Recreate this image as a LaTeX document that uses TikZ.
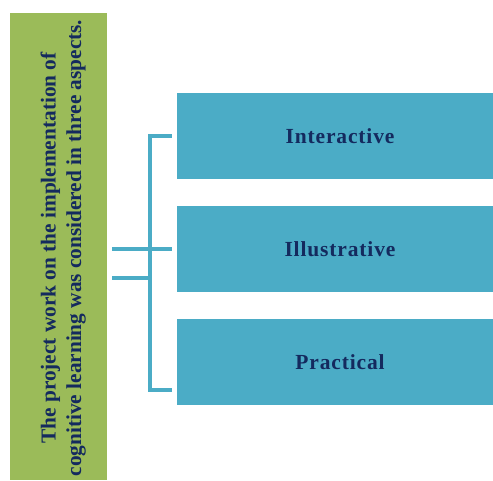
\documentclass[tikz,border=0pt]{standalone}
\usepackage{fontspec}
\setmainfont{Liberation Serif}
\definecolor{greenbox}{HTML}{9BBB59}
\definecolor{bluebox}{HTML}{4BACC6}
\definecolor{navytext}{HTML}{142A5E}
\tikzset{
  aspectbox/.style={rectangle, fill=bluebox, draw=none, inner sep=0pt,
    minimum width=316pt, minimum height=86pt,
    font=\fontsize{21.5}{25}\selectfont\bfseries\addfontfeature{LetterSpace=4},
    text=navytext},
  aspectlabel/.style={inner sep=0pt, text=navytext,
    font=\fontsize{21.5}{25}\selectfont\bfseries\addfontfeature{LetterSpace=4}},
  conn/.style={draw=bluebox, line width=3.5pt, line cap=butt, line join=miter},
}
\begin{document}
\begin{tikzpicture}[x=1pt, y=-1pt]
\useasboundingbox (0,0) rectangle (493,480);
% left green box
\node[rectangle, fill=greenbox, inner sep=0pt, minimum width=97pt, minimum height=467pt] (gb) at (58.5,246.5) {};
\node[rotate=90, align=center, inner sep=0pt, text=navytext,
  font=\fontsize{21.3}{25.5}\selectfont\bfseries] (gt) at (63.2,248)
  {The project work on the implementation of\\cognitive learning was considered in three aspects.};
% aspect boxes
\node[aspectbox] (b1) at (335,136) {};
\node[aspectbox] (b2) at (335,249) {};
\node[aspectbox] (b3) at (335,362) {};
\node[aspectlabel, xshift=5pt] (l1) at (b1.center) {Interactive};
\node[aspectlabel, xshift=5pt] (l2) at (b2.center) {Illustrative};
\node[aspectlabel, xshift=5pt] (l3) at (b3.center) {Practical};
% connector points
\coordinate (jb) at (150,390);
\coordinate (j2) at (150,249);
\coordinate (j3) at (150,278);
\coordinate (t1) at ([xshift=-5pt]b1.west);
\coordinate (t2) at ([xshift=-5pt]b2.west);
\coordinate (t3) at ([xshift=-5pt]b3.west |- jb);
\coordinate (g2) at ([xshift=5pt]gb.east |- j2);
\coordinate (g3) at ([xshift=5pt]gb.east |- j3);
% bracket
\draw[conn] (t1) -| (jb) -- (t3);
\draw[conn] (j2) -- (t2);
\draw[conn] (g2) -- (j2);
\draw[conn] (g3) -- (j3);
\end{tikzpicture}
\end{document}
